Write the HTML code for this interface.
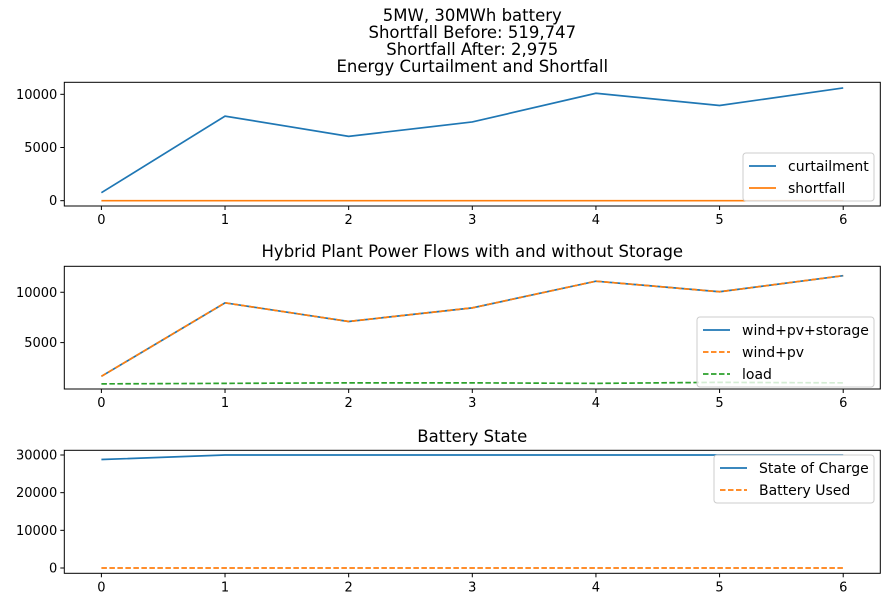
<!DOCTYPE html>
<html><head><meta charset="utf-8"><style>
body{margin:0;background:#fff;font-family:"Liberation Sans","DejaVu Sans",sans-serif;}
svg text{font-family:"DejaVu Sans","Liberation Sans",sans-serif;}
</style></head><body>
<svg id="c" width="890" height="607" xmlns="http://www.w3.org/2000/svg"></svg>
<script>
const xCats=[0,1,2,3,4,5,6];
const curtailment=[750,7950,6050,7400,10100,8950,10600];
const shortfall=[0,0,0,0,0,0,0];
const windPvStorage=[1650,8950,7100,8450,11100,10050,11650];
const windPv=[1650,8950,7100,8450,11100,10050,11650];
const load=[900,950,1000,1000,950,1050,1000];
const stateOfCharge=[28800,30000,30000,30000,30000,30000,30000];
const batteryUsed=[0,0,0,0,0,0,0];
const ticks1=[0,5000,10000];
const ticks2=[5000,10000];
const ticks3=[0,10000,20000,30000];
const titles=["5MW, 30MWh battery","Shortfall Before: 519,747","Shortfall After: 2,975","Energy Curtailment and Shortfall"];

const NS="http://www.w3.org/2000/svg";
const svg=document.getElementById('c');
function mk(t,a,p){const e=document.createElementNS(NS,t);for(const k in a)e.setAttribute(k,a[k]);(p||svg).appendChild(e);return e;}
const L=64.3,R=880.3;
const xs=v=>L+(v+0.3)/6.6*(R-L);
function axis(top,bot,ymin,ymax,ticks,name){
  const g=mk('g',{});
  
  
  const ys=v=>bot-(v-ymin)/(ymax-ymin)*(bot-top);
  mk('rect',{x:L,y:top,width:R-L,height:bot-top,fill:'none',stroke:'#000','stroke-width':1},g);
  xCats.forEach(c=>{const x=xs(c);mk('line',{x1:x,x2:x,y1:bot,y2:bot+4,stroke:'#000'},g);
    const t=mk('text',{x:x,y:bot+18,'text-anchor':'middle','font-size':13},g);t.textContent=c;
    });
  ticks.forEach(v=>{const y=ys(v);mk('line',{x1:L-4,x2:L,y1:y,y2:y,stroke:'#000'},g);
    const t=mk('text',{x:L-7,y:y+4.5,'text-anchor':'end','font-size':13},g);t.textContent=v;
    });
  return {g,ys};
}
function line(ax,vals,color,dash,name){
  const p=mk('polyline',{points:vals.map((v,i)=>xs(xCats[i])+','+ax.ys(v)).join(' '),fill:'none',stroke:color,'stroke-width':1.7,'stroke-dasharray':dash||''},ax.g);
  
  
}
function title(txt,y,name){const t=mk('text',{x:(L+R)/2,y:y,'text-anchor':'middle','font-size':16.5});t.textContent=txt;
  }
function legend(x,y,w,entries,name){
  const g=mk('g',{});
  
  
  mk('rect',{x:x,y:y,width:w,height:entries.length*22+4,rx:3,fill:'#fff','fill-opacity':0.8,stroke:'#ccc'},g);
  entries.forEach((e,i)=>{const yy=y+13+i*22;
    mk('line',{x1:x+6,x2:x+33,y1:yy,y2:yy,stroke:e[1],'stroke-width':1.7,'stroke-dasharray':e[2]||''},g);
    const t=mk('text',{x:x+45,y:yy+5,'font-size':14},g);t.textContent=e[0];
    });
}
const B='#1f77b4',O='#ff7f0e',G='#2ca02c';
titles.forEach((t,i)=>title(t,21+i*17,i==3?'top-title':'header-line'));
const a1=axis(82.3,206,-500,11130,ticks1,'curtailment-axes');
line(a1,curtailment,B,'','curtailment-line');
line(a1,shortfall,O,'','shortfall-line');
legend(743,153,131,[['curtailment',B],['shortfall',O]],'legend-1');
title('Hybrid Plant Power Flows with and without Storage',257,'middle-title');
const a2=axis(266.3,389,390,12580,ticks2,'power-axes');
line(a2,windPvStorage,B,'','wind-pv-storage-line');
line(a2,windPv,O,'5.5,2.5','wind-pv-line');
line(a2,load,G,'5.5,2.5','load-line');
legend(697,317,177,[['wind+pv+storage',B],['wind+pv',O,'5.5,2.5'],['load',G,'5.5,2.5']],'legend-2');
title('Battery State',442,'bottom-title');
const a3=axis(450.3,573.3,-1410,31250,ticks3,'battery-axes');
line(a3,stateOfCharge,B,'','state-of-charge-line');
line(a3,batteryUsed,O,'5.5,2.5','battery-used-line');
legend(714,455,160,[['State of Charge',B],['Battery Used',O,'5.5,2.5']],'legend-3');
</script>
</body></html>
